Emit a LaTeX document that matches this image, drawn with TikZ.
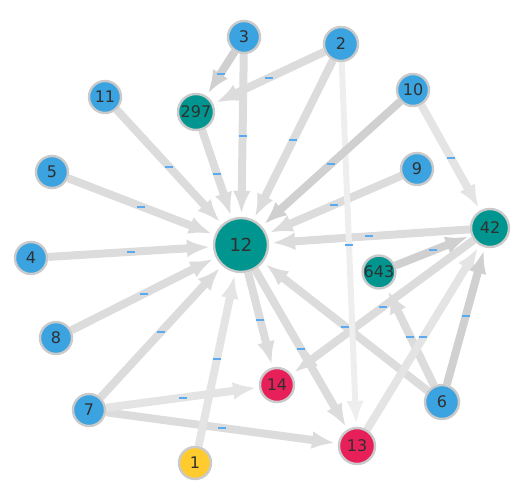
\documentclass[tikz,border=0pt]{standalone}
\usepackage{fontspec}
\setmainfont{DejaVu Sans}
\usetikzlibrary{arrows.meta,backgrounds}

\definecolor{nodeblue}{HTML}{3AA3E0}
\definecolor{nodeteal}{HTML}{00968F}
\definecolor{nodered}{HTML}{E8205A}
\definecolor{nodeyellow}{HTML}{FFCB2E}
\definecolor{ringgray}{HTML}{CACACA}
\definecolor{edgegray}{HTML}{DCDCDC}
\definecolor{edgelight}{HTML}{E4E4E4}
\definecolor{edgepale}{HTML}{EEEEEE}
\definecolor{edgedark}{HTML}{D0D0D0}
\definecolor{dashblue}{HTML}{5AAAF2}
\definecolor{labeltext}{HTML}{303030}

\tikzset{
  vertex/.style={circle,draw=ringgray,line width=2.4pt,inner sep=0pt,
    minimum size=32pt,text=labeltext,font=\fontsize{16}{16}\selectfont},
  bluev/.style={vertex,fill=nodeblue},
  tealv/.style={vertex,fill=nodeteal},
  redv/.style={vertex,fill=nodered},
  yellowv/.style={vertex,fill=nodeyellow},
  edge/.style={draw=edgegray,line width=8pt,
    -{Latex[length=23pt,width=18pt]},shorten >=3pt},
  lbl/.style={fill=dashblue,inner sep=0pt,minimum width=8pt,minimum height=2pt}
}

\begin{document}
\begin{tikzpicture}[x=1pt,y=-1pt]
\useasboundingbox (0,0) rectangle (530,500);

% vertices
\node[tealv,minimum size=54pt,font=\fontsize{18}{18}\selectfont] (n12) at (241,245) {12};
\node[bluev] (n3) at (244,37) {3};
\node[bluev,minimum size=34pt] (n2) at (341,44) {2};
\node[tealv,minimum size=36pt] (n297) at (196,112) {297};
\node[bluev] (n11) at (105,97) {11};
\node[bluev] (n10) at (413,90) {10};
\node[bluev] (n5) at (52,172) {5};
\node[bluev] (n9) at (417,169) {9};
\node[tealv,minimum size=38pt] (n42) at (490,228) {42};
\node[bluev] (n4) at (31,258) {4};
\node[tealv] (n643) at (379,272) {643};
\node[bluev] (n8) at (56,338) {8};
\node[redv,minimum size=34pt] (n14) at (277,385) {14};
\node[bluev,minimum size=34pt] (n6) at (442,402) {6};
\node[bluev] (n7) at (89,410) {7};
\node[redv,minimum size=36pt] (n13) at (357,446) {13};
\node[yellowv] (n1) at (195,463) {1};

% connectors
\begin{pgfonlayer}{background}
\foreach \a/\b in {n3/n12,n2/n297,n2/n12,n11/n12,n297/n12,n5/n12,n9/n12,
    n42/n12,n4/n12,n8/n12,n7/n12,n7/n13,n12/n14,n12/n13,n42/n14,n6/n12,n6/n643}
  \draw[edge] (\a) -- node[lbl]{} (\b);
\foreach \a/\b in {n10/n42,n7/n14,n1/n12,n13/n42}
  \draw[edge,draw=edgelight] (\a) -- node[lbl]{} (\b);
\draw[edge,draw=edgepale,line width=6pt] (n2) -- node[lbl]{} (n13);
\foreach \a/\b in {n3/n297,n10/n12,n6/n42,n643/n42}
  \draw[edge,draw=edgedark] (\a) -- node[lbl]{} (\b);
\end{pgfonlayer}
\end{tikzpicture}
\end{document}
